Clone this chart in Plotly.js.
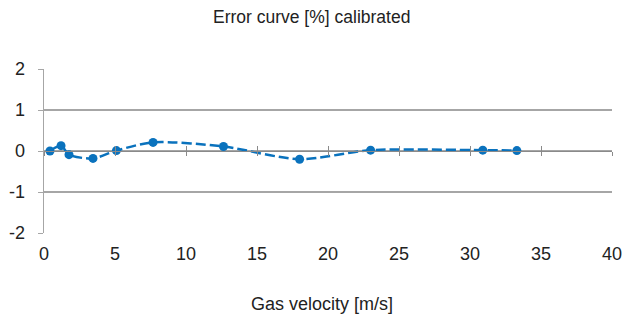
<!DOCTYPE html>
<html>
<head>
<meta charset="utf-8">
<script src="https://cdn.plot.ly/plotly-3.0.1.min.js"></script>
<style>html,body{margin:0;padding:0;background:#fff;}#chart{width:640px;height:318px;}</style>
</head>
<body>
<div id="chart"></div>
<script>
const velocity = [0.42, 1.2, 1.76, 3.45, 5.1, 7.68, 12.64, 18.0, 23.0, 30.9, 33.3];
const errorPct = [0.0, 0.13, -0.09, -0.18, 0.01, 0.21, 0.11, -0.2, 0.02, 0.02, 0.01];
const xTicks = [0, 5, 10, 15, 20, 25, 30, 35, 40];
const yTicks = [-2, -1, 0, 1, 2];

const blue = '#0a72bd';
const fam = 'Liberation Sans, Arial, sans-serif';
const tickFont = {family: fam, size: 18, color: '#222'};

const data = [{
  x: velocity, y: errorPct, type: 'scatter', mode: 'lines+markers',
  line: {color: blue, width: 2.5, dash: '10px,4px', shape: 'spline', smoothing: 0.8},
  marker: {color: blue, size: 9},
  hoverinfo: 'skip'
}];

const layout = {
  width: 640, height: 318,
  margin: {l: 44, r: 28, t: 69, b: 85},
  paper_bgcolor: '#fff', plot_bgcolor: '#fff',
  showlegend: false,
  title: {text: 'Error curve [%] calibrated', x: 0.487, xanchor: 'center', y: 0.948, yanchor: 'middle',
          font: {family: fam, size: 17.5, color: '#222'}},
  xaxis: {
    range: [0, 40], tickvals: xTicks, ticktext: xTicks.map(String),
    showgrid: false, zeroline: false, showline: false, ticks: '',
    tickfont: tickFont, ticklabelstandoff: 8
  },
  xaxis2: {
    range: [0, 40], tickvals: xTicks, overlaying: 'x', anchor: 'free', position: 0.5,
    showgrid: false, zeroline: false, showline: true, linecolor: '#8a8a8a', linewidth: 1,
    ticks: 'outside', ticklen: 4, tickcolor: '#8a8a8a', showticklabels: false
  },
  xaxis3: {
    range: [0, 40], tickvals: xTicks, overlaying: 'x', anchor: 'free', position: 0.5,
    showgrid: false, zeroline: false, showline: false,
    ticks: 'inside', ticklen: 5, tickcolor: '#8a8a8a', showticklabels: false
  },
  yaxis: {
    range: [-2, 2], tickvals: yTicks, ticktext: yTicks.map(String),
    showgrid: true, gridcolor: '#a6a6a6', gridwidth: 1.3,
    zeroline: false, showline: true, linecolor: '#a6a6a6', linewidth: 1.3,
    ticks: 'outside', ticklen: 5, tickcolor: '#a6a6a6',
    tickfont: tickFont, ticklabelstandoff: 9
  },
  annotations: [{
    text: 'Gas velocity [m/s]', xref: 'paper', yref: 'paper',
    x: 0.4886, y: -0.433, xanchor: 'center', yanchor: 'middle', showarrow: false,
    font: {family: fam, size: 18, color: '#222'}
  }]
};

data.push({x: [0], y: [0], xaxis: 'x2', mode: 'markers', marker: {opacity: 0}, hoverinfo: 'skip'});
data.push({x: [0], y: [0], xaxis: 'x3', mode: 'markers', marker: {opacity: 0}, hoverinfo: 'skip'});

Plotly.newPlot('chart', data, layout, {staticPlot: true, displayModeBar: false});
</script>
</body>
</html>
